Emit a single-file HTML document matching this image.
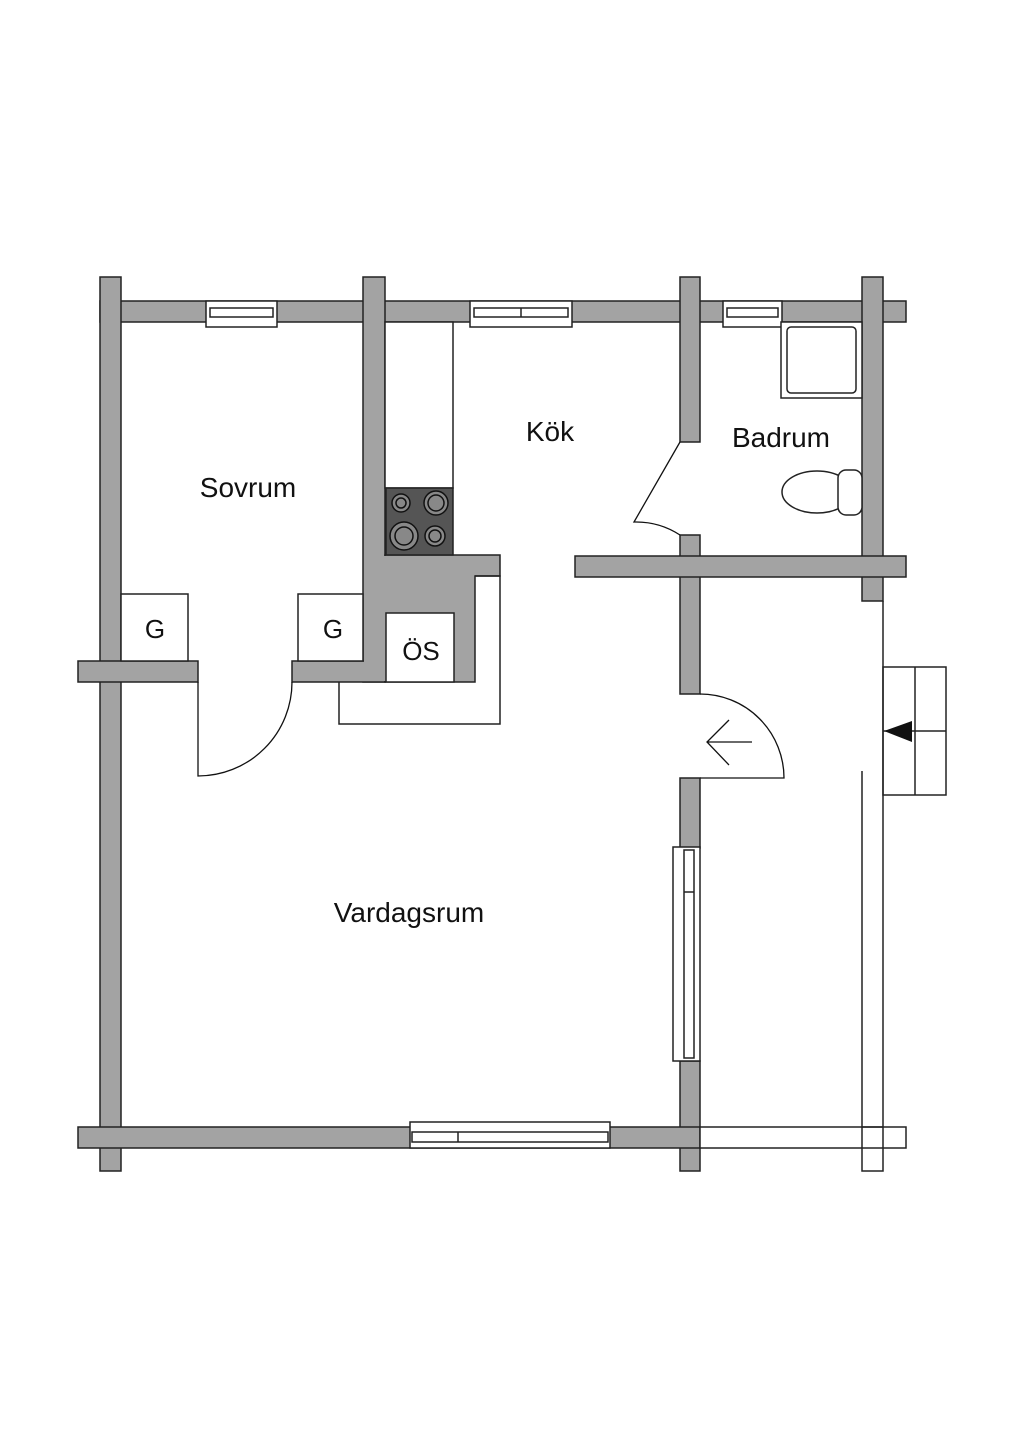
<!DOCTYPE html>
<html><head><meta charset="utf-8"><style>
html,body{margin:0;padding:0;background:#fff;}
svg{display:block}
text{font-family:"Liberation Sans",sans-serif;fill:#111;}
</style></head><body>
<svg width="1024" height="1448" viewBox="0 0 1024 1448" xmlns="http://www.w3.org/2000/svg">
<g fill="#a3a3a3" stroke="#222" stroke-width="1.5">
<rect x="100" y="301" width="806" height="21"/>
<rect x="100" y="277" width="21" height="894"/>
<rect x="363" y="277" width="22" height="405"/>
<rect x="680" y="277" width="20" height="165"/>
<rect x="862" y="277" width="21" height="324"/>
<rect x="78" y="661" width="120" height="21"/>
<rect x="292" y="661" width="93" height="21"/>
<path d="M385 555 H500 V576 H475 V682 H385 Z"/>
<rect x="680" y="535" width="20" height="159"/>
<rect x="575" y="556" width="331" height="21"/>
<rect x="680" y="778" width="20" height="70"/>
<rect x="680" y="1061" width="20" height="110"/>
<rect x="78" y="1127" width="622" height="21"/>
</g>
<g fill="#a3a3a3">
<rect x="101" y="302" width="19" height="19"/>
<rect x="364" y="302" width="20" height="19"/>
<rect x="681" y="302" width="18" height="19"/>
<rect x="863" y="302" width="19" height="19"/>
<rect x="101" y="662" width="19" height="19"/>
<rect x="364" y="556" width="22" height="125"/>
<rect x="364" y="662" width="22" height="19"/>
<rect x="681" y="557" width="18" height="19"/>
<rect x="863" y="557" width="19" height="19"/>
<rect x="101" y="1128" width="19" height="19"/>
<rect x="681" y="1128" width="18" height="19"/>
</g>
<g fill="#fff" stroke="#222" stroke-width="1.5">
<rect x="121" y="594" width="67" height="67"/>
<rect x="298" y="594" width="65" height="67"/>
<rect x="386" y="613" width="68" height="69"/>
<rect x="385" y="322" width="68" height="166"/>
<rect x="206" y="301" width="71" height="26"/>
<rect x="210" y="308" width="63" height="9"/>
<rect x="470" y="301" width="102" height="26"/>
<rect x="474" y="308" width="94" height="9"/>
<line x1="521" y1="308" x2="521" y2="317"/>
<rect x="723" y="301" width="59" height="26"/>
<rect x="727" y="308" width="51" height="9"/>
<rect x="673" y="847" width="27" height="214"/>
<rect x="684" y="850" width="10" height="208"/>
<line x1="684" y1="892" x2="694" y2="892"/>
<rect x="410" y="1122" width="200" height="26"/>
<rect x="412" y="1132" width="196" height="10"/>
<line x1="458" y1="1132" x2="458" y2="1142"/>
<rect x="700" y="1127" width="206" height="21"/>
<line x1="862" y1="1127" x2="883" y2="1127"/>
<rect x="883" y="667" width="63" height="128"/>
<line x1="915" y1="667" x2="915" y2="795"/>
<line x1="883" y1="731" x2="946" y2="731"/>
<rect x="781" y="322" width="81" height="76"/>
<rect x="787" y="327" width="69" height="66" rx="4"/>
<ellipse cx="817" cy="492" rx="35" ry="21"/>
<rect x="838" y="470" width="24" height="45" rx="8"/>
</g>
<g fill="none" stroke="#222" stroke-width="1.5">
<path d="M475 576 H500 V724 H339 V682"/>
<path d="M883 601 V1171 H862 V771"/>
</g>
<polygon points="884,731 912,721 912,742" fill="#111"/>
<rect x="386" y="488" width="67" height="67" fill="#555" stroke="#222" stroke-width="1.5"/>
<g fill="#888" stroke="#111" stroke-width="1.5">
<circle cx="401" cy="503" r="9"/><circle cx="401" cy="503" r="5"/>
<circle cx="436" cy="503" r="12"/><circle cx="436" cy="503" r="8"/>
<circle cx="404" cy="536" r="14"/><circle cx="404" cy="536" r="9"/>
<circle cx="435" cy="536" r="10"/><circle cx="435" cy="536" r="6"/>
</g>
<g fill="none" stroke="#111" stroke-width="1.3">
<path d="M198 682 V776 A94 94 0 0 0 292 682"/>
<path d="M680 442 L634 522 A80 80 0 0 1 680 535"/>
<path d="M700 694 A84 84 0 0 1 784 778 H700"/>
<path d="M752 742 H707 M729 720 L707 742 L729 765"/>
</g>
<text x="248" y="497" font-size="28" text-anchor="middle">Sovrum</text>
<text x="550" y="441" font-size="28" text-anchor="middle">Kök</text>
<text x="781" y="447" font-size="28" text-anchor="middle">Badrum</text>
<text x="409" y="922" font-size="28" text-anchor="middle">Vardagsrum</text>
<text x="155" y="638" font-size="26" text-anchor="middle">G</text>
<text x="333" y="638" font-size="26" text-anchor="middle">G</text>
<text x="421" y="660" font-size="26" text-anchor="middle">ÖS</text>
</svg>
</body></html>
